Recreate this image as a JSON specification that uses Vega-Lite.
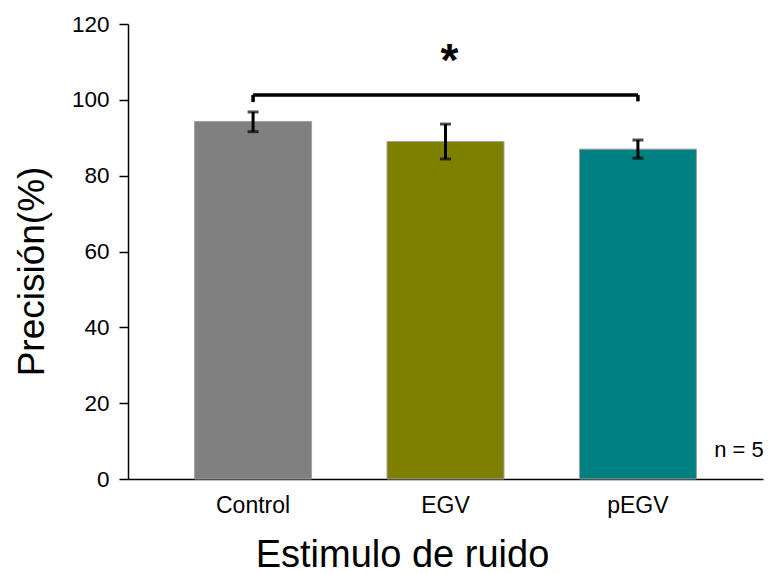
{
  "$schema": "https://vega.github.io/schema/vega-lite/v6.json",
  "width": 635,
  "height": 455,
  "autosize": {"type": "none"},
  "padding": {"left": 128, "top": 24, "right": 13, "bottom": 94},
  "background": "white",
  "config": {
    "view": {"stroke": null},
    "font": "Liberation Sans",
    "axis": {"grid": false, "labelFont": "Liberation Sans", "titleFont": "Liberation Sans", "labelColor": "black", "titleColor": "black", "domainColor": "black", "tickColor": "black", "titleFontWeight": "normal"}
  },
  "datasets": {
    "bars": [
      {"grupo": "Control", "precision": 94.3, "lo": 91.6, "hi": 96.8, "color": "#808080"},
      {"grupo": "EGV", "precision": 89.0, "lo": 84.4, "hi": 93.6, "color": "#808000"},
      {"grupo": "pEGV", "precision": 87.0, "lo": 84.6, "hi": 89.4, "color": "#008080"}
    ],
    "bracket": [
      {"a": "Control", "b": "pEGV", "y": 101.3}
    ],
    "legs": [
      {"grupo": "Control", "y1": 99.4, "y2": 101.3},
      {"grupo": "pEGV", "y1": 99.6, "y2": 101.3}
    ],
    "star": [{"grupo": "EGV", "y": 110, "t": "*"}],
    "note": [{"grupo": "pEGV", "y": 7.6, "t": "n = 5"}]
  },
  "layer": [
    {
      "data": {"name": "bars"},
      "mark": {"type": "bar", "stroke": "#a0a0a0", "strokeWidth": 1},
      "encoding": {
        "x": {
          "field": "grupo", "type": "nominal", "sort": null,
          "scale": {"paddingInner": 0.392, "paddingOuter": 0.346},
          "axis": {"title": "Estimulo de ruido", "titleFontSize": 38, "titlePadding": 19, "titleX": 274, "labelFontSize": 23, "labelAngle": 0, "labelPadding": 15, "ticks": false, "domainWidth": 1.5}
        },
        "y": {
          "field": "precision", "type": "quantitative",
          "scale": {"domain": [0, 120], "nice": false},
          "axis": {"title": "Precisión(%)", "titleFontSize": 37, "titlePadding": 20, "titleY": 247, "values": [0, 20, 40, 60, 80, 100, 120], "labelFontSize": 22.5, "tickSize": 9, "labelPadding": 10, "domainWidth": 1.5, "tickWidth": 1.5}
        },
        "color": {"field": "color", "type": "nominal", "scale": null}
      }
    },
    {
      "data": {"name": "bars"},
      "mark": {"type": "rule", "color": "black", "strokeWidth": 3},
      "encoding": {
        "x": {"field": "grupo", "type": "nominal", "sort": null},
        "y": {"field": "lo", "type": "quantitative"},
        "y2": {"field": "hi"}
      }
    },
    {
      "data": {"name": "bars"},
      "mark": {"type": "tick", "color": "black", "size": 11, "thickness": 3, "orient": "horizontal"},
      "encoding": {
        "x": {"field": "grupo", "type": "nominal", "sort": null},
        "y": {"field": "lo", "type": "quantitative"}
      }
    },
    {
      "data": {"name": "bars"},
      "mark": {"type": "tick", "color": "black", "size": 11, "thickness": 3, "orient": "horizontal"},
      "encoding": {
        "x": {"field": "grupo", "type": "nominal", "sort": null},
        "y": {"field": "hi", "type": "quantitative"}
      }
    },
    {
      "data": {"name": "bracket"},
      "mark": {"type": "rule", "color": "black", "strokeWidth": 3.5},
      "encoding": {
        "x": {"field": "a", "type": "nominal", "sort": null},
        "x2": {"field": "b"},
        "y": {"field": "y", "type": "quantitative"}
      }
    },
    {
      "data": {"name": "legs"},
      "mark": {"type": "rule", "color": "black", "strokeWidth": 3.5},
      "encoding": {
        "x": {"field": "grupo", "type": "nominal", "sort": null},
        "y": {"field": "y1", "type": "quantitative"},
        "y2": {"field": "y2"}
      }
    },
    {
      "data": {"name": "star"},
      "mark": {"type": "text", "fontSize": 46, "fontWeight": "bold", "color": "black", "baseline": "middle", "align": "center", "dx": 4},
      "encoding": {
        "x": {"field": "grupo", "type": "nominal", "sort": null},
        "y": {"field": "y", "type": "quantitative"},
        "text": {"field": "t"}
      }
    },
    {
      "data": {"name": "note"},
      "mark": {"type": "text", "fontSize": 22, "color": "black", "baseline": "middle", "align": "center", "dx": 101},
      "encoding": {
        "x": {"field": "grupo", "type": "nominal", "sort": null},
        "y": {"field": "y", "type": "quantitative"},
        "text": {"field": "t"}
      }
    }
  ]
}
